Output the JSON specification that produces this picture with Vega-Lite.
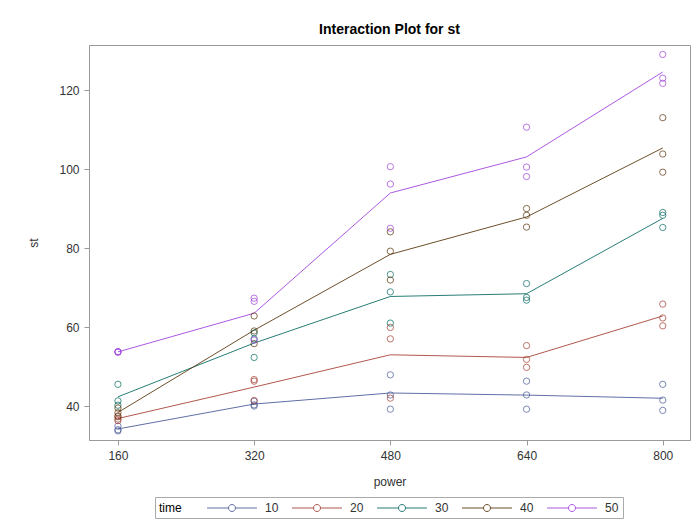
{
  "$schema": "https://vega.github.io/schema/vega-lite/v6.json",
  "width": 601,
  "height": 395,
  "autosize": {"type": "none"},
  "padding": {"left": 89, "top": 45, "right": 4, "bottom": 81},
  "background": "white",
  "title": {"text": "Interaction Plot for st", "fontSize": 14, "fontWeight": "bold", "font": "Liberation Sans", "color": "#000000", "offset": 8},
  "config": {
    "font": "Liberation Sans",
    "view": {"stroke": "#9a9a9a", "strokeWidth": 1},
    "axis": {"domainColor": "#9a9a9a", "tickColor": "#9a9a9a", "labelColor": "#333333", "titleColor": "#333333", "labelFontSize": 12, "titleFontSize": 12, "titleFontWeight": "normal", "grid": false, "tickSize": 5, "labelFont": "Liberation Sans", "titleFont": "Liberation Sans"}
  },
  "data": {"values": [
    {"power": 160, "time": 10, "st": 34.9}, {"power": 160, "time": 10, "st": 34.0}, {"power": 160, "time": 10, "st": 33.7},
    {"power": 160, "time": 20, "st": 37.5}, {"power": 160, "time": 20, "st": 36.7}, {"power": 160, "time": 20, "st": 36.3},
    {"power": 160, "time": 30, "st": 45.5}, {"power": 160, "time": 30, "st": 41.3}, {"power": 160, "time": 30, "st": 40.2},
    {"power": 160, "time": 40, "st": 39.5}, {"power": 160, "time": 40, "st": 38.3}, {"power": 160, "time": 40, "st": 37.3},
    {"power": 160, "time": 50, "st": 53.8}, {"power": 160, "time": 50, "st": 53.6}, {"power": 160, "time": 50, "st": 53.7},
    {"power": 320, "time": 10, "st": 41.2}, {"power": 320, "time": 10, "st": 40.3}, {"power": 320, "time": 10, "st": 40.0},
    {"power": 320, "time": 20, "st": 46.7}, {"power": 320, "time": 20, "st": 46.3}, {"power": 320, "time": 20, "st": 41.4},
    {"power": 320, "time": 30, "st": 58.5}, {"power": 320, "time": 30, "st": 57.0}, {"power": 320, "time": 30, "st": 52.3},
    {"power": 320, "time": 40, "st": 62.8}, {"power": 320, "time": 40, "st": 59.0}, {"power": 320, "time": 40, "st": 55.8},
    {"power": 320, "time": 50, "st": 67.3}, {"power": 320, "time": 50, "st": 66.5}, {"power": 320, "time": 50, "st": 56.7},
    {"power": 480, "time": 10, "st": 47.9}, {"power": 480, "time": 10, "st": 42.8}, {"power": 480, "time": 10, "st": 39.2},
    {"power": 480, "time": 20, "st": 59.9}, {"power": 480, "time": 20, "st": 57.0}, {"power": 480, "time": 20, "st": 42.0},
    {"power": 480, "time": 30, "st": 73.3}, {"power": 480, "time": 30, "st": 68.9}, {"power": 480, "time": 30, "st": 61.0},
    {"power": 480, "time": 40, "st": 84.1}, {"power": 480, "time": 40, "st": 79.2}, {"power": 480, "time": 40, "st": 71.9},
    {"power": 480, "time": 50, "st": 100.6}, {"power": 480, "time": 50, "st": 96.2}, {"power": 480, "time": 50, "st": 85.0},
    {"power": 640, "time": 10, "st": 46.3}, {"power": 640, "time": 10, "st": 42.8}, {"power": 640, "time": 10, "st": 39.2},
    {"power": 640, "time": 20, "st": 55.3}, {"power": 640, "time": 20, "st": 51.8}, {"power": 640, "time": 20, "st": 49.8},
    {"power": 640, "time": 30, "st": 71.0}, {"power": 640, "time": 30, "st": 67.5}, {"power": 640, "time": 30, "st": 66.8},
    {"power": 640, "time": 40, "st": 90.0}, {"power": 640, "time": 40, "st": 88.3}, {"power": 640, "time": 40, "st": 85.3},
    {"power": 640, "time": 50, "st": 110.6}, {"power": 640, "time": 50, "st": 100.5}, {"power": 640, "time": 50, "st": 98.1},
    {"power": 800, "time": 10, "st": 45.5}, {"power": 800, "time": 10, "st": 41.5}, {"power": 800, "time": 10, "st": 38.9},
    {"power": 800, "time": 20, "st": 65.8}, {"power": 800, "time": 20, "st": 62.3}, {"power": 800, "time": 20, "st": 60.3},
    {"power": 800, "time": 30, "st": 89.0}, {"power": 800, "time": 30, "st": 88.3}, {"power": 800, "time": 30, "st": 85.2},
    {"power": 800, "time": 40, "st": 113.0}, {"power": 800, "time": 40, "st": 103.8}, {"power": 800, "time": 40, "st": 99.2},
    {"power": 800, "time": 50, "st": 129.0}, {"power": 800, "time": 50, "st": 123.0}, {"power": 800, "time": 50, "st": 121.7}
  ]},
  "encoding": {
    "x": {"field": "power", "type": "quantitative",
      "scale": {"domain": [126, 832], "nice": false, "zero": false},
      "axis": {"values": [160, 320, 480, 640, 800], "title": "power", "labelPadding": 5, "titlePadding": 15}},
    "color": {"field": "time", "type": "nominal",
      "scale": {"domain": [10, 20, 30, 40, 50], "range": ["#445694", "#A23A2E", "#01665E", "#543005", "#9D3CDB"]},
      "legend": {"orient": "none", "legendX": 66, "legendY": 452, "direction": "horizontal",
        "title": "time", "titleOrient": "left", "titleFontSize": 12, "titleFontWeight": "normal", "titleColor": "#000000", "titlePadding": 43, "titleBaseline": "middle",
        "labelFontSize": 12, "labelColor": "#333333", "labelOffset": 26,
        "symbolType": "M-4,0H-0.56M0.56,0H4M0.56,0A0.56,0.56,0,1,1,-0.56,0A0.56,0.56,0,1,1,0.56,0",
        "symbolSize": 156, "symbolStrokeWidth": 1, "symbolFillColor": "transparent",
        "columnPadding": 11, "strokeColor": "#aaaaaa", "padding": 4, "fillColor": "white"}}
  },
  "layer": [
    {
      "mark": {"type": "line", "strokeWidth": 1, "opacity": 0.85},
      "encoding": {
        "y": {"aggregate": "mean", "field": "st", "type": "quantitative",
          "scale": {"domain": [31.4, 131.4], "nice": false, "zero": false},
          "axis": {"values": [40, 60, 80, 100, 120], "title": "st", "labelPadding": 5, "titlePadding": 18}}
      }
    },
    {
      "mark": {"type": "point", "shape": "circle", "filled": false, "size": 40, "strokeWidth": 1},
      "encoding": {
        "y": {"field": "st", "type": "quantitative"}
      }
    }
  ]
}
